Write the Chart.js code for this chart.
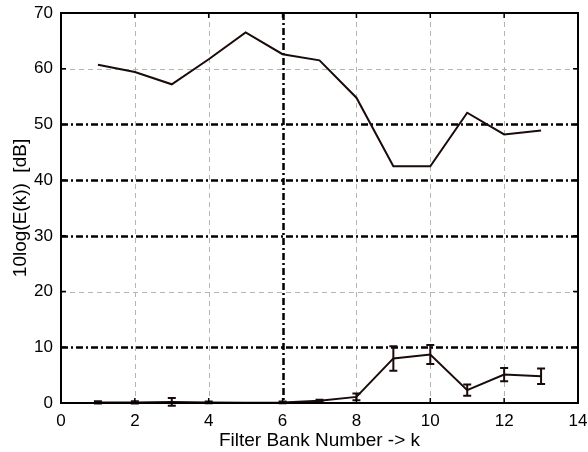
<!DOCTYPE html>
<html>
<head>
<meta charset="utf-8">
<script src="https://cdn.jsdelivr.net/npm/chart.js@4"></script>
<style>
  html, body { margin: 0; padding: 0; background: #fff; }
  #box { width: 588px; height: 452px; }
</style>
</head>
<body>
<div id="box"><canvas id="energyChart" width="588" height="452"></canvas></div>
<script>
// filter bank index k
const bands = [1, 2, 3, 4, 5, 6, 7, 8, 9, 10, 11, 12, 13];
// upper curve, 10log(E(k)) in dB
const upperDb = [60.7, 59.4, 57.2, 61.7, 66.5, 62.6, 61.5, 54.8, 42.5, 42.5, 52.1, 48.2, 48.9];
// lower curve and its error bar half-widths
const lowerDb = [0.1, 0.1, 0.2, 0.1, 0.05, 0.1, 0.4, 1.1, 8.0, 8.7, 2.3, 5.1, 4.8];
const lowerErr = [0.2, 0.2, 0.7, 0.15, 0, 0.15, 0.2, 0.6, 2.2, 1.7, 1.0, 1.2, 1.4];

const xTicks = [0, 2, 4, 6, 8, 10, 12, 14];
const yTicks = [0, 10, 20, 30, 40, 50, 60, 70];

// which grid lines are light dashed and which are heavy dash-dot
const xLight = [2, 4, 8, 10, 12];
const xHeavy = [6];
const yLight = [20, 60];
const yHeavy = [10, 30, 40, 50];

const lineColor = '#1a0a0a';
const fontFamily = 'Arial, "Liberation Sans", Helvetica, sans-serif';

function toPoints(ys) {
    return bands.map((k, i) => ({ x: k, y: ys[i] }));
}

const gridPlugin = {
    id: 'matlabGrid',
    beforeDatasetsDraw(chart) {
        const { ctx, chartArea: a, scales: { x, y } } = chart;
        ctx.save();
        const vline = (v) => {
            const px = Math.round(x.getPixelForValue(v)) + 0.5;
            ctx.beginPath(); ctx.moveTo(px, a.top); ctx.lineTo(px, a.bottom); ctx.stroke();
        };
        const hline = (v) => {
            const py = Math.round(y.getPixelForValue(v)) + 0.5;
            ctx.beginPath(); ctx.moveTo(a.left, py); ctx.lineTo(a.right, py); ctx.stroke();
        };
        ctx.strokeStyle = '#b4b4b4';
        ctx.lineWidth = 1;
        ctx.setLineDash([5, 4]);
        xLight.forEach(vline);
        yLight.forEach(hline);

        ctx.strokeStyle = '#000';
        ctx.lineWidth = 2.5;
        ctx.setLineDash([7, 3, 2, 3]);
        xHeavy.forEach(vline);
        yHeavy.forEach(hline);
        ctx.restore();
    },
    afterDatasetsDraw(chart) {
        const { ctx, chartArea: a, scales: { x, y } } = chart;
        ctx.save();
        // error bars on the lower curve
        ctx.strokeStyle = lineColor;
        ctx.lineWidth = 2;
        bands.forEach((k, i) => {
            const e = lowerErr[i];
            if (!e) return;
            const px = x.getPixelForValue(k);
            const top = y.getPixelForValue(lowerDb[i] + e);
            const bot = y.getPixelForValue(lowerDb[i] - e);
            ctx.beginPath();
            ctx.moveTo(px, top); ctx.lineTo(px, bot);
            ctx.moveTo(px - 4, top); ctx.lineTo(px + 4, top);
            ctx.moveTo(px - 4, bot); ctx.lineTo(px + 4, bot);
            ctx.stroke();
        });

        // inward tick marks on all four sides
        ctx.strokeStyle = '#000';
        ctx.lineWidth = 1.5;
        const tl = 5;
        xTicks.forEach(v => {
            const px = x.getPixelForValue(v);
            ctx.beginPath();
            ctx.moveTo(px, a.bottom); ctx.lineTo(px, a.bottom - tl);
            ctx.moveTo(px, a.top); ctx.lineTo(px, a.top + tl);
            ctx.stroke();
        });
        yTicks.forEach(v => {
            const py = y.getPixelForValue(v);
            ctx.beginPath();
            ctx.moveTo(a.left, py); ctx.lineTo(a.left + tl, py);
            ctx.moveTo(a.right, py); ctx.lineTo(a.right - tl, py);
            ctx.stroke();
        });

        // box
        ctx.lineWidth = 2;
        ctx.strokeRect(a.left, a.top, a.right - a.left, a.bottom - a.top);
        ctx.restore();
    }
};

new Chart(document.getElementById('energyChart'), {
    type: 'line',
    data: {
        datasets: [
            {
                label: 'upper',
                data: toPoints(upperDb),
                borderColor: lineColor,
                borderWidth: 2,
                pointRadius: 0,
                fill: false,
                tension: 0
            },
            {
                label: 'lower',
                data: toPoints(lowerDb),
                borderColor: lineColor,
                borderWidth: 2,
                pointRadius: 0,
                fill: false,
                tension: 0
            }
        ]
    },
    options: {
        responsive: false,
        animation: false,
        layout: { padding: { top: 13, right: 10, left: 0, bottom: 0 } },
        plugins: {
            legend: { display: false },
            tooltip: { enabled: false }
        },
        scales: {
            x: {
                type: 'linear',
                min: 0,
                max: 14,
                afterBuildTicks: (s) => { s.ticks = xTicks.map(v => ({ value: v })); },
                afterFit: (s) => {
                    s.height = 49;
                    s.paddingLeft = 0;
                    s.paddingRight = 0;
                },
                grid: { display: false, drawTicks: false },
                border: { display: false },
                ticks: {
                    color: '#000',
                    padding: 8,
                    maxRotation: 0,
                    font: { family: fontFamily, size: 17 }
                },
                title: {
                    display: true,
                    text: 'Filter Bank Number -> k',
                    color: '#000',
                    padding: { top: 0, bottom: 0 },
                    font: { family: fontFamily, size: 19 }
                }
            },
            y: {
                type: 'linear',
                min: 0,
                max: 70,
                afterBuildTicks: (s) => { s.ticks = yTicks.map(v => ({ value: v })); },
                afterFit: (s) => {
                    s.width = 61;
                    s.paddingTop = 0;
                    s.paddingBottom = 0;
                },
                grid: { display: false, drawTicks: false },
                border: { display: false },
                ticks: {
                    color: '#000',
                    padding: 8,
                    font: { family: fontFamily, size: 17 }
                },
                title: {
                    display: true,
                    text: '10log(E(k))  [dB]',
                    color: '#000',
                    padding: { top: 9, bottom: 0 },
                    font: { family: fontFamily, size: 19 }
                }
            }
        }
    },
    plugins: [gridPlugin]
});
</script>
</body>
</html>
